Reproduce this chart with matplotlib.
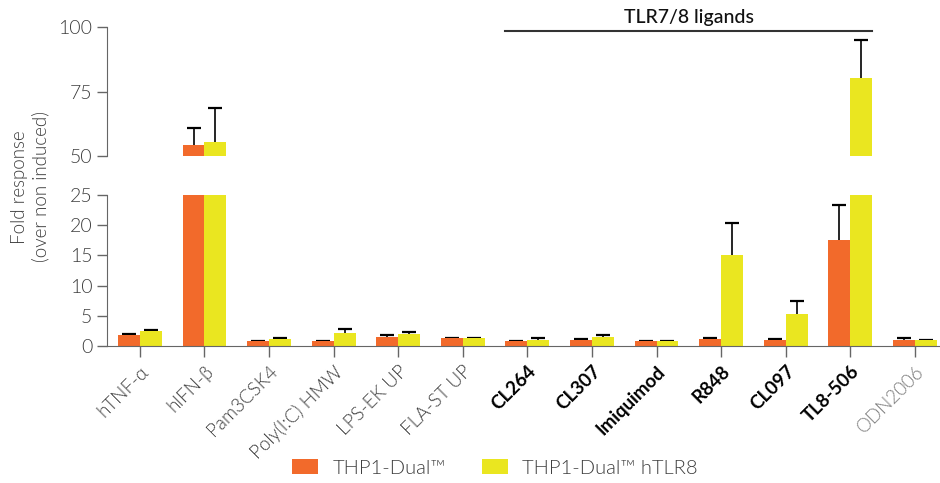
import numpy as np
import matplotlib.pyplot as plt

plt.rcParams["font.family"] = ["Lato", "DejaVu Sans"]

# ==========================================================
# Data
# ==========================================================

ligands = ["hTNF-α", "hIFN-β", "Pam3CSK4", "Poly(I:C) HMW", "LPS-EK UP",
           "FLA-ST UP", "CL264", "CL307", "Imiquimod", "R848", "CL097",
           "TL8-506", "ODN2006"]
tlr78 = ["CL264", "CL307", "Imiquimod", "R848", "CL097", "TL8-506"]

dual = [1.8, 54.3, 0.85, 0.85, 1.5, 1.3, 0.85, 1.0, 0.85, 1.15, 1.0, 17.6, 1.0]
dual_err = [0.2, 6.4, 0.0, 0.0, 0.35, 0.1, 0.0, 0.1, 0.0, 0.1, 0.2, 5.8, 0.25]

hlr8 = [2.45, 55.4, 1.15, 2.15, 2.0, 1.3, 1.0, 1.5, 0.85, 15.1, 5.25, 80.2, 1.0]
hlr8_err = [0.25, 13.2, 0.2, 0.6, 0.3, 0.1, 0.25, 0.4, 0.0, 5.2, 2.15, 14.9, 0.05]

series_names = ["THP1-Dual™", "THP1-Dual™ hTLR8"]
colors = ["#F26A2B", "#EAE620"]

# ==========================================================
# Plot
# ==========================================================

fig = plt.figure(figsize=(9.4, 4.83), dpi=100)
ax_top = fig.add_axes([0.1138, 0.677, 0.8862, 0.2671])
ax_bot = fig.add_axes([0.1138, 0.2836, 0.8862, 0.3127])

x = np.arange(len(ligands))
w = 0.34
gray = "#666666"
txt = "#3d3d3d"
light = 300

for ax in (ax_top, ax_bot):
    for i, (vals, errs) in enumerate([(dual, dual_err), (hlr8, hlr8_err)]):
        pos = x - w / 2 + i * w
        ax.bar(pos, vals, width=w, color=colors[i], label=series_names[i], zorder=2)
        eb = ax.errorbar(pos, vals, yerr=[np.zeros(len(errs)), errs], fmt="none",
                         ecolor="black", elinewidth=1.2, capsize=5, capthick=1.6,
                         zorder=1)
        eb[1][0].set_visible(False)
    ax.set_xlim(-0.51, 12.39)
    for s in ["top", "right"]:
        ax.spines[s].set_visible(False)
    ax.spines["left"].set_color(gray)
    ax.tick_params(axis="y", colors=gray, labelcolor=txt, labelsize=14,
                   length=7, width=1)

ax_top.set_ylim(50, 100)
ax_top.set_yticks([50, 75, 100])
ax_top.spines["bottom"].set_visible(False)
ax_top.set_xticks([])

ax_bot.set_ylim(0, 25)
ax_bot.set_yticks([0, 5, 10, 15, 20, 25])
ax_bot.spines["bottom"].set_color(gray)
ax_bot.set_xticks(x)
ax_bot.set_xticklabels(ligands, rotation=45, ha="right", rotation_mode="anchor")
ax_bot.tick_params(axis="x", colors=gray, length=8, width=1, labelsize=13.5, pad=4)
for lab in ax_bot.get_xticklabels():
    if lab.get_text() in tlr78:
        lab.set_color("black")
        lab.set_fontweight("bold")
    elif lab.get_text() == "ODN2006":
        lab.set_color("#7a7a7a")
        lab.set_fontweight(light)
    else:
        lab.set_color(txt)
        lab.set_fontweight(light)
for lab in ax_top.get_yticklabels() + ax_bot.get_yticklabels():
    lab.set_fontweight(light)

# TLR7/8 bracket
i0 = ligands.index("CL264")
i1 = ligands.index("TL8-506")
ax_top.plot([i0 - w, i1 + w], [98.5, 98.5], color="#333333", lw=1.5, clip_on=False)
ax_top.text((i0 + i1) / 2, 101.6, "TLR7/8 ligands", ha="center", va="baseline",
            fontsize=14, fontweight="medium", color="#111111", clip_on=False)

fig.text(0.032, 1 - 187 / 483, "Fold response\n(over non induced)", rotation=90,
         ha="center", va="center", fontsize=13.5, color=txt,
         fontweight=light, linespacing=1.2)

handles, labels = ax_bot.get_legend_handles_labels()
leg = fig.legend(handles, labels, loc="center left",
                 bbox_to_anchor=(292 / 940, 1 - 468 / 483), ncol=2, frameon=False,
                 fontsize=14.5, handlelength=1.3, handleheight=0.75,
                 handletextpad=0.7, columnspacing=1.8, borderaxespad=0,
                 borderpad=0)
for t in leg.get_texts():
    t.set_color(txt)
    t.set_fontweight(light)

plt.savefig("out.png", dpi=100)
plt.close()
